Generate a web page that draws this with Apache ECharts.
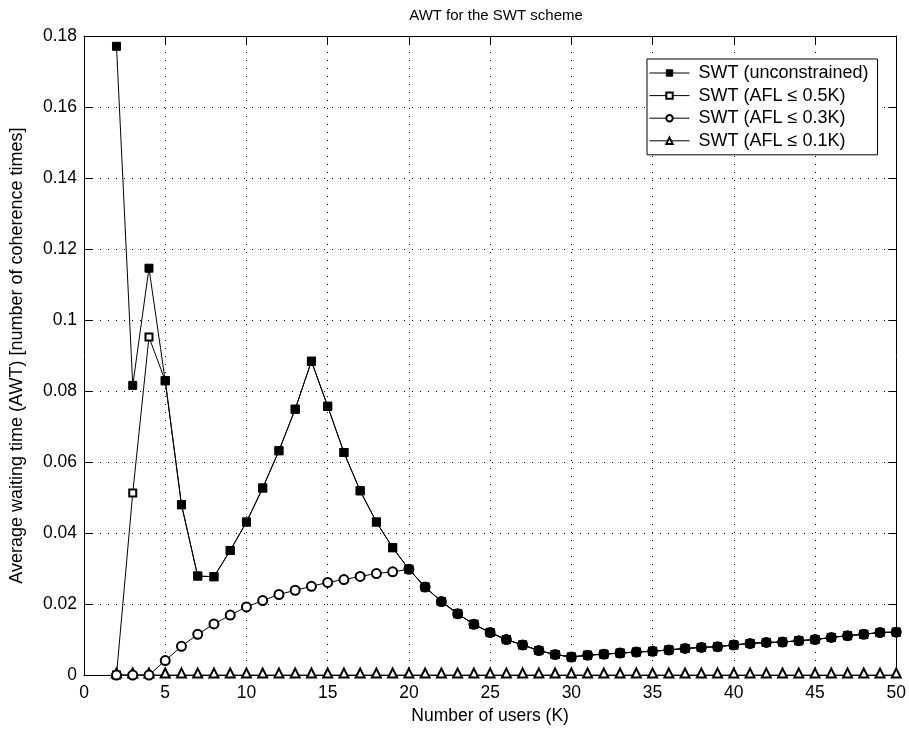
<!DOCTYPE html>
<html>
<head>
<meta charset="utf-8">
<script src="https://cdn.jsdelivr.net/npm/echarts@6/dist/echarts.min.js"></script>
<style>
  html, body { margin: 0; padding: 0; background: #fff; }
  #main { width: 909px; height: 730px; }
</style>
</head>
<body>
<div id="main"></div>
<script>
// number of users K
const users = [2, 3, 4, 5, 6, 7, 8, 9, 10, 11, 12, 13, 14, 15, 16, 17, 18, 19, 20,
  21, 22, 23, 24, 25, 26, 27, 28, 29, 30, 31, 32, 33, 34, 35, 36, 37, 38, 39, 40,
  41, 42, 43, 44, 45, 46, 47, 48, 49, 50];

const swtUnconstrained = [0.1771, 0.0816, 0.1146, 0.0829, 0.0480, 0.0279, 0.0277, 0.0351, 0.0431, 0.0527,
  0.0632, 0.0749, 0.0884, 0.0757, 0.0627, 0.0519, 0.0431, 0.0359, 0.0298,
  0.0248, 0.0207, 0.0173, 0.0143, 0.0120, 0.0100, 0.0085, 0.0069, 0.0058, 0.0051,
  0.0056, 0.0059, 0.0062, 0.0065, 0.0067, 0.0071, 0.0075, 0.0078, 0.0080, 0.0085,
  0.0089, 0.0092, 0.0093, 0.0097, 0.0100, 0.0106, 0.0111, 0.0115, 0.0120, 0.0121];

const swtAfl05 = [0, 0.0513, 0.0952, 0.0829, 0.0480, 0.0279, 0.0277, 0.0351, 0.0431, 0.0527,
  0.0632, 0.0749, 0.0884, 0.0757, 0.0627, 0.0519, 0.0431, 0.0359, 0.0298,
  0.0248, 0.0207, 0.0173, 0.0143, 0.0120, 0.0100, 0.0085, 0.0069, 0.0058, 0.0051,
  0.0056, 0.0059, 0.0062, 0.0065, 0.0067, 0.0071, 0.0075, 0.0078, 0.0080, 0.0085,
  0.0089, 0.0092, 0.0093, 0.0097, 0.0100, 0.0106, 0.0111, 0.0115, 0.0120, 0.0121];

const swtAfl03 = [0, 0, 0, 0.0041, 0.0081, 0.0115, 0.0144, 0.0169, 0.0192, 0.0210,
  0.0227, 0.0239, 0.0250, 0.0261, 0.0269, 0.0278, 0.0286, 0.0291, 0.0298,
  0.0248, 0.0207, 0.0173, 0.0143, 0.0120, 0.0100, 0.0085, 0.0069, 0.0058, 0.0051,
  0.0056, 0.0059, 0.0062, 0.0065, 0.0067, 0.0071, 0.0075, 0.0078, 0.0080, 0.0085,
  0.0089, 0.0092, 0.0093, 0.0097, 0.0100, 0.0106, 0.0111, 0.0115, 0.0120, 0.0121];

const swtAfl01 = [0, 0, 0, 0, 0, 0, 0, 0, 0, 0,
  0, 0, 0, 0, 0, 0, 0, 0, 0,
  0, 0, 0, 0, 0, 0, 0, 0, 0, 0,
  0, 0, 0, 0, 0, 0, 0, 0, 0, 0,
  0, 0, 0, 0, 0, 0, 0, 0, 0, 0];

const seriesNames = ['SWT (unconstrained)', 'SWT (AFL \u2264 0.5K)', 'SWT (AFL \u2264 0.3K)', 'SWT (AFL \u2264 0.1K)'];

const font = "'Liberation Sans', Arial, Helvetica, sans-serif";

function pairs(ys) {
  return users.map((k, i) => [k, ys[i]]);
}

function makeSeries(name, ys, symbol, size, z, offset) {
  return {
    name: name,
    type: 'line',
    data: pairs(ys),
    symbol: symbol,
    symbolSize: size,
    symbolOffset: offset || [0, 0],
    showAllSymbol: true,
    clip: false,
    z: z,
    lineStyle: { color: '#000', width: 1 },
    itemStyle: { color: '#000', borderColor: '#000', borderWidth: 1 },
    emphasis: { disabled: true }
  };
}

const chart = echarts.init(document.getElementById('main'));

const gridLine = { show: true, lineStyle: { color: '#000', width: 1, type: [1, 7] } };

const option = {
  animation: false,
  backgroundColor: '#fff',
  textStyle: { fontFamily: font },
  title: {
    text: 'AWT for the SWT scheme',
    left: 491,
    top: 3,
    textAlign: 'center',
    textStyle: { fontFamily: font, fontSize: 15, fontWeight: 'normal', color: '#000' }
  },
  legend: {
    orient: 'vertical',
    left: 647,
    top: 59,
    padding: [5, 9, 5, 2],
    itemWidth: 40,
    itemHeight: 8,
    itemGap: 4.6,
    backgroundColor: '#fff',
    borderColor: '#000',
    borderWidth: 1,
    itemStyle: { borderWidth: 1 },
    lineStyle: { width: 1 },
    textStyle: { fontFamily: font, fontSize: 18, color: '#000', padding: [0, 0, 0, 4] },
    data: seriesNames
  },
  grid: { left: 84, right: 10, top: 36, bottom: 52 },
  xAxis: [{
    type: 'value',
    min: 0, max: 50, interval: 5,
    name: 'Number of users (K)',
    nameLocation: 'middle',
    nameGap: 31,
    nameTextStyle: { fontFamily: font, fontSize: 17.5, color: '#000' },
    axisLine: { show: true, onZero: false, lineStyle: { color: '#000', width: 1 } },
    axisTick: { show: true, inside: true, length: 8, lineStyle: { color: '#000' } },
    axisLabel: { fontFamily: font, fontSize: 17.5, color: '#000', margin: 9 },
    splitLine: gridLine
  }, {
    type: 'value',
    position: 'top',
    min: 0, max: 50, interval: 5,
    axisLine: { show: true, onZero: false, lineStyle: { color: '#000', width: 1 } },
    axisTick: { show: true, inside: true, length: 8, lineStyle: { color: '#000' } },
    axisLabel: { show: false },
    splitLine: { show: false }
  }],
  yAxis: [{
    type: 'value',
    min: 0, max: 0.18, interval: 0.02,
    name: 'Average waiting time (AWT) [number of coherence times]',
    nameLocation: 'middle',
    nameGap: 58,
    nameTextStyle: { fontFamily: font, fontSize: 18, color: '#000' },
    axisLine: { show: true, onZero: false, lineStyle: { color: '#000', width: 1 } },
    axisTick: { show: true, inside: true, length: 8, lineStyle: { color: '#000' } },
    axisLabel: { fontFamily: font, fontSize: 17.5, color: '#000', margin: 7 },
    splitLine: gridLine
  }, {
    type: 'value',
    position: 'right',
    min: 0, max: 0.18, interval: 0.02,
    axisLine: { show: true, onZero: false, lineStyle: { color: '#000', width: 1 } },
    axisTick: { show: true, inside: true, length: 8, lineStyle: { color: '#000' } },
    axisLabel: { show: false },
    splitLine: { show: false }
  }],
  series: [
    makeSeries(seriesNames[0], swtUnconstrained, 'rect', 8, 5),
    makeSeries(seriesNames[1], swtAfl05, 'emptyRect', 7, 3),
    makeSeries(seriesNames[2], swtAfl03, 'emptyCircle', 9, 4),
    makeSeries(seriesNames[3], swtAfl01, 'emptyTriangle', 9, 3, [0, -2])
  ]
};

chart.setOption(option);
</script>
</body>
</html>
